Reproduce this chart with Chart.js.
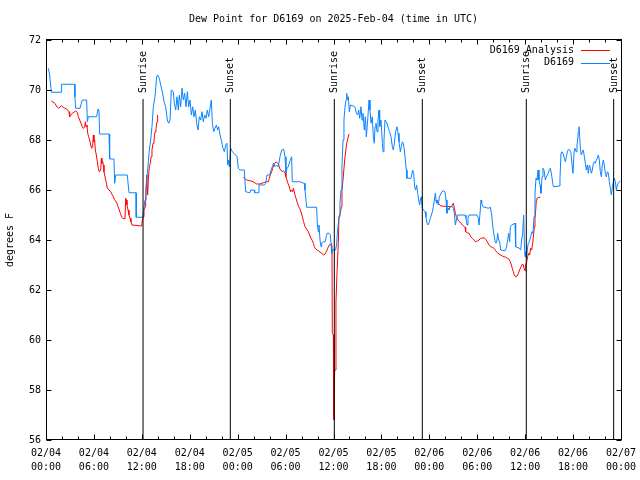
<!DOCTYPE html>
<html>
<head>
<meta charset="utf-8">
<title>Dew Point D6169</title>
<script src="https://cdn.jsdelivr.net/npm/chart.js@4.4.1/dist/chart.umd.min.js"></script>
<style>
  html, body { margin: 0; padding: 0; background: #fff; }
  #wrap { width: 640px; height: 480px; }
</style>
</head>
<body>
<div id="wrap"><canvas id="grafico" width="640" height="480"></canvas></div>
<script>
// ---------------------------------------------------------
// Dados (horas desde 02/04 00:00 UTC, ponto de orvalho em F)
// ---------------------------------------------------------
const TITULO = 'Dew Point for D6169 on 2025-Feb-04 (time in UTC)';

const xTickLabels = [
  ['02/04', '00:00'], ['02/04', '06:00'], ['02/04', '12:00'], ['02/04', '18:00'],
  ['02/05', '00:00'], ['02/05', '06:00'], ['02/05', '12:00'], ['02/05', '18:00'],
  ['02/06', '00:00'], ['02/06', '06:00'], ['02/06', '12:00'], ['02/06', '18:00'],
  ['02/07', '00:00']
];

// eventos solares
const sunHours = [12.15, 23.08, 36.10, 47.12, 60.14, 71.08];
const sunLabels = ['Sunrise', 'Sunset', 'Sunrise', 'Sunset', 'Sunrise', 'Sunset'];
const sunLineTop = 69.64;

// observacoes D6169 (azul)
const obsHours = [
  0.29, 0.46, 0.58, 0.67, 1.92, 1.95, 3.59, 3.62, 3.71, 4.26, 4.42, 4.55, 5.09, 5.18, 5.30, 6.34,
  6.51, 6.63, 6.72, 7.89, 7.97, 8.51, 8.60, 8.72, 10.18, 10.39, 11.27, 11.30, 12.10, 12.19, 12.40, 12.52,
  12.69, 12.94, 13.11, 13.27, 13.44, 13.65, 13.86, 13.98, 14.19, 14.36, 14.57, 14.78, 14.99, 15.19, 15.36, 15.53,
  15.69, 15.94, 16.07, 16.24, 16.40, 16.57, 16.70, 16.86, 17.03, 17.20, 17.36, 17.53, 17.70, 17.86, 18.03, 18.20,
  18.37, 18.53, 18.70, 18.87, 19.03, 19.20, 19.37, 19.53, 19.70, 19.87, 20.04, 20.20, 20.37, 20.54, 20.70, 20.83,
  21.00, 21.16, 21.33, 21.50, 21.62, 21.79, 22.00, 22.16, 22.33, 22.50, 22.66, 22.75, 22.83, 22.96, 23.12, 23.33,
  23.54, 23.75, 23.92, 24.08, 24.29, 24.83, 25.00, 25.54, 25.63, 26.05, 26.13, 26.59, 26.67, 27.34, 27.51, 27.67,
  28.01, 28.17, 28.34, 28.51, 28.68, 28.88, 29.09, 29.30, 29.51, 29.76, 29.93, 30.05, 30.18, 30.34, 30.51, 30.76,
  30.84, 31.81, 32.26, 32.35, 32.43, 32.64, 33.89, 33.98, 34.10, 34.18, 34.31, 34.44, 34.52, 34.69, 34.94, 35.10,
  35.19, 35.44, 35.60, 35.69, 35.77, 35.90, 36.27, 36.40, 36.48, 36.69, 36.81, 36.94, 37.06, 37.19, 37.31, 37.44,
  37.57, 37.65, 37.77, 37.86, 37.98, 38.11, 38.48, 38.69, 38.86, 39.03, 39.15, 39.28, 39.44, 39.57, 39.69, 39.86,
  39.99, 40.11, 40.28, 40.45, 40.57, 40.70, 40.86, 40.99, 41.11, 41.20, 41.32, 41.45, 41.57, 41.70, 41.78, 41.95,
  42.12, 42.20, 42.32, 42.45, 42.70, 42.87, 43.03, 43.20, 43.37, 43.49, 43.62, 43.78, 43.95, 44.08, 44.20, 44.37,
  44.49, 44.62, 44.74, 44.87, 44.99, 45.12, 45.20, 45.70, 45.79, 45.91, 46.04, 46.16, 46.29, 46.41, 46.54, 46.67,
  46.79, 46.87, 47.00, 47.12, 47.29, 47.46, 47.58, 47.71, 47.87, 48.00, 48.13, 48.25, 48.38, 48.50, 48.63, 48.75,
  48.88, 49.00, 49.13, 49.25, 49.38, 49.55, 49.75, 49.96, 50.09, 50.21, 50.34, 50.46, 50.59, 50.88, 51.01, 51.13,
  51.26, 51.38, 51.55, 52.47, 52.59, 52.72, 52.84, 52.97, 53.97, 54.14, 54.22, 54.35, 54.47, 54.55, 54.72, 55.39,
  55.64, 55.81, 55.97, 56.14, 56.27, 56.43, 56.56, 56.68, 56.81, 56.93, 57.48, 57.64, 57.81, 57.94, 58.06, 58.14,
  58.31, 58.73, 58.81, 59.27, 59.44, 59.56, 59.69, 59.81, 59.90, 59.98, 60.06, 60.19, 60.31, 60.40, 60.52, 60.69,
  60.86, 60.98, 61.11, 61.23, 61.36, 61.48, 61.61, 61.73, 61.86, 61.98, 62.11, 62.23, 62.36, 62.53, 62.65, 62.90,
  63.03, 63.15, 63.28, 63.40, 63.53, 64.24, 64.36, 64.49, 64.61, 64.74, 64.91, 65.03, 65.16, 65.28, 65.41, 65.57,
  65.74, 65.87, 65.99, 66.12, 66.24, 66.37, 66.49, 66.57, 66.66, 66.74, 66.82, 66.91, 67.03, 67.16, 67.28, 67.41,
  67.53, 67.66, 67.79, 67.91, 68.04, 68.16, 68.29, 68.41, 68.54, 68.66, 68.78, 68.91, 69.04, 69.16, 69.29, 69.41,
  69.54, 69.66, 69.79, 69.91, 70.04, 70.16, 70.29, 70.42, 70.54, 70.67, 70.79, 70.92, 71.04, 71.17, 71.29, 71.42,
  71.54, 71.67, 71.79, 71.92
];
const obsDewF = [
  70.87, 70.60, 70.20, 69.91, 69.91, 70.23, 70.23, 69.73, 69.27, 69.27, 69.47, 69.60, 69.60, 68.73, 68.93, 68.93,
  69.24, 69.20, 68.24, 68.24, 67.24, 67.24, 66.27, 66.60, 66.60, 65.89, 65.89, 64.91, 64.91, 65.13, 65.60, 66.00,
  66.67, 67.60, 68.00, 68.53, 69.33, 69.73, 70.53, 70.60, 70.47, 70.20, 69.93, 69.53, 69.33, 68.80, 68.67, 68.80,
  70.00, 69.93, 69.47, 69.20, 69.73, 69.20, 69.80, 69.33, 70.07, 69.60, 69.87, 69.33, 69.93, 69.33, 69.60, 69.00,
  69.33, 68.93, 69.20, 68.67, 68.40, 68.93, 68.80, 69.13, 68.73, 69.00, 68.87, 69.20, 68.93, 69.27, 69.60, 68.67,
  68.33, 68.47, 68.60, 68.40, 68.53, 68.20, 67.93, 67.67, 67.53, 67.80, 67.87, 67.00, 67.20, 66.93, 67.67, 67.53,
  67.47, 67.40, 67.33, 66.87, 66.80, 66.80, 65.93, 65.89, 66.00, 66.00, 65.89, 65.89, 66.20, 66.20, 66.27, 66.60,
  66.60, 66.80, 66.93, 67.07, 66.93, 67.00, 66.93, 67.33, 67.60, 67.63, 67.33, 66.67, 66.87, 66.93, 67.13, 67.33,
  66.33, 66.33, 66.27, 66.27, 66.00, 65.31, 65.31, 64.60, 64.33, 64.60, 64.00, 63.73, 63.87, 63.93, 63.93, 64.13,
  64.27, 64.27, 64.20, 63.87, 63.47, 63.60, 63.60, 63.87, 64.27, 64.93, 65.47, 66.00, 66.93, 68.00, 68.80, 69.33,
  69.60, 69.87, 69.60, 69.73, 69.13, 69.40, 69.36, 69.31, 69.07, 69.00, 69.20, 68.87, 69.33, 68.80, 69.07, 68.40,
  68.93, 68.13, 68.80, 69.60, 69.20, 68.67, 68.93, 68.13, 67.87, 68.53, 68.67, 68.33, 68.80, 69.20, 68.53, 68.80,
  67.87, 67.53, 68.00, 68.80, 68.67, 68.47, 68.33, 68.13, 67.73, 67.60, 67.87, 68.33, 68.53, 68.27, 67.93, 67.53,
  67.73, 67.93, 67.87, 67.60, 67.20, 66.80, 66.47, 66.47, 66.60, 66.80, 66.67, 66.13, 66.00, 66.20, 65.87, 65.60,
  65.40, 65.60, 65.73, 65.27, 65.20, 65.13, 64.93, 64.67, 64.60, 64.73, 64.87, 65.00, 65.13, 65.33, 65.60, 65.87,
  65.47, 65.60, 65.40, 65.73, 65.80, 65.93, 65.97, 65.93, 65.60, 65.07, 65.27, 65.20, 65.33, 65.33, 65.27, 65.07,
  64.60, 64.80, 65.00, 65.00, 64.87, 64.60, 64.87, 65.00, 65.00, 64.87, 64.60, 65.07, 65.60, 65.47, 65.33, 65.27,
  65.31, 65.00, 64.47, 64.13, 63.89, 63.89, 64.27, 64.00, 63.93, 63.60, 63.57, 63.67, 64.00, 64.27, 63.93, 64.53,
  64.60, 64.67, 63.73, 63.67, 63.60, 64.00, 64.27, 65.00, 63.87, 63.33, 63.53, 63.27, 63.73, 63.87, 63.93, 64.13,
  64.33, 64.27, 64.93, 65.87, 66.47, 66.40, 66.80, 66.40, 66.20, 65.87, 66.53, 66.87, 66.80, 66.40, 66.53, 66.67,
  66.83, 66.87, 66.67, 66.40, 66.13, 66.16, 66.47, 67.49, 67.53, 67.47, 67.27, 67.13, 67.33, 67.53, 67.63, 67.60,
  67.47, 67.00, 66.67, 67.53, 67.67, 67.53, 67.80, 68.00, 68.33, 68.53, 68.13, 67.67, 67.40, 67.53, 67.60, 67.33,
  67.07, 66.80, 67.00, 66.67, 67.00, 66.87, 66.67, 66.80, 67.07, 67.13, 67.07, 67.20, 67.27, 67.40, 67.20, 66.73,
  66.53, 67.00, 67.20, 67.00, 66.67, 66.53, 66.73, 66.67, 66.33, 66.07, 65.80, 66.13, 66.33, 66.47, 66.33, 66.00,
  66.20, 66.27, 66.33, 66.37
];

// analise D6169 (vermelho), null = sem dados
const anaHours = [
  0.67, 1.09, 1.42, 1.59, 1.92, 2.25, 2.59, 2.88, 2.96, 3.30, 3.71, 3.92, 4.05, 4.22, 4.47, 4.59,
  4.72, 4.84, 4.93, 5.01, 5.13, 5.22, 5.34, 5.47, 5.59, 5.72, 5.84, 5.93, 6.01, 6.09, 6.18, 6.30,
  6.43, 6.55, 6.68, 6.85, 6.93, 7.01, 7.10, 7.18, 7.26, 7.35, 7.47, 7.60, 7.68, 8.10, 8.26, 8.43,
  8.56, 8.72, 8.89, 9.02, 9.18, 9.31, 9.43, 9.60, 9.89, 9.98, 10.06, 10.14, 10.27, 10.39, 10.52, 10.64,
  10.77, 10.85, 11.98, 12.06, 12.19, 12.27, 12.40, 12.48, 12.61, 12.73, 12.81, 12.94, 13.06, 13.15, 13.27, 13.40,
  13.52, 13.65, 13.77, 13.90, 13.98, 14.50,
  24.71, 25.13, 25.54, 25.96, 26.38, 26.80, 27.21, 27.63, 27.84, 27.97, 28.09, 28.26, 28.38, 28.51, 28.68, 28.88,
  29.01, 29.13, 29.30, 29.43, 29.59, 29.72, 29.84, 29.93, 30.05, 30.14, 30.26, 30.39, 30.51, 30.64, 30.76, 30.89,
  30.97, 31.10, 31.18, 31.43, 31.60, 31.76, 31.93, 32.10, 32.26, 32.43, 32.64, 32.85, 33.02, 33.18, 33.35, 33.48,
  33.60, 33.77, 33.93, 34.10, 34.44, 34.77, 34.94, 35.10, 35.27, 35.52, 35.81, 35.85, 35.98, 36.03, 36.15, 36.23,
  36.31, 36.44, 36.60, 36.69, 36.85, 36.98, 37.06, 37.19, 37.40, 37.65, 37.90, 37.98, 40.00,
  48.84, 48.96, 49.13, 49.30, 49.46, 50.71, 50.88, 51.01, 51.13, 51.26, 51.38, 51.51, 51.63, 51.80, 51.97, 52.13,
  52.47, 52.55, 52.76, 52.97, 53.18, 53.38, 53.59, 53.80, 54.01, 54.22, 54.43, 54.85, 55.06, 55.26, 55.47, 55.68,
  55.89, 56.10, 56.31, 56.52, 56.72, 56.93, 57.14, 57.35, 57.56, 57.77, 57.98, 58.14, 58.27, 58.39, 58.52, 58.64,
  58.81, 58.98, 59.15, 59.31, 59.48, 59.65, 59.77, 59.86, 59.98, 60.06, 60.19, 60.31, 60.44, 60.56, 60.69, 60.81,
  60.94, 61.07, 61.15, 61.23, 61.32, 61.40, 61.48, 61.73, 61.90
];
const anaDewF = [
  69.56, 69.47, 69.31, 69.27, 69.37, 69.29, 69.24, 69.13, 68.93, 69.07, 69.16, 69.11, 68.93, 68.80, 68.60, 68.49,
  68.47, 68.53, 68.73, 68.53, 68.60, 68.27, 68.13, 68.00, 67.80, 67.67, 67.73, 68.20, 67.93, 68.00, 67.60, 67.40,
  67.13, 66.87, 66.73, 66.80, 67.27, 67.07, 67.13, 67.00, 66.73, 66.60, 66.40, 66.20, 66.07, 65.93, 65.83, 65.73,
  65.63, 65.56, 65.47, 65.33, 65.20, 65.07, 64.96, 64.87, 64.84, 65.67, 65.60, 65.40, 65.20, 65.00, 64.87, 64.73,
  64.60, 64.60, 64.56, 64.80, 64.93, 65.20, 65.33, 65.60, 66.60, 65.80, 66.40, 66.93, 67.07, 67.33, 67.60, 67.87,
  68.00, 68.33, 68.47, 68.73, 69.00, null,
  66.51, 66.40, 66.37, 66.33, 66.24, 66.24, 66.29, 66.33, 66.33, 66.47, 66.60, 66.73, 66.87, 67.00, 67.09, 67.12,
  67.07, 67.00, 66.83, 66.80, 66.73, 66.77, 66.73, 66.67, 66.53, 66.43, 66.29, 66.20, 66.07, 65.93, 66.00, 65.93,
  66.07, 65.93, 65.80, 65.53, 65.36, 65.27, 65.13, 64.93, 64.73, 64.53, 64.43, 64.33, 64.20, 64.07, 63.97, 63.87,
  63.73, 63.64, 63.60, 63.57, 63.49, 63.40, 63.44, 63.53, 63.67, 63.83, 63.75, 60.30, 60.20, 56.80, 58.80, 58.80,
  61.53, 62.67, 63.87, 64.93, 65.07, 65.33, 66.00, 66.40, 67.20, 67.87, 68.20, 68.24, null,
  65.60, 65.53, 65.47, 65.40, 65.36, 65.33, 65.40, 65.47, 65.27, 65.07, 64.93, 64.87, 64.77, 64.73, 64.67, 64.60,
  64.51, 64.33, 64.29, 64.27, 64.13, 64.07, 64.00, 63.93, 63.96, 64.00, 64.07, 64.09, 64.03, 63.93, 63.80, 63.73,
  63.71, 63.67, 63.57, 63.49, 63.44, 63.40, 63.36, 63.33, 63.31, 63.27, 63.23, 63.13, 63.00, 62.87, 62.73, 62.60,
  62.53, 62.56, 62.67, 62.80, 62.93, 63.04, 63.00, 62.87, 62.77, 63.00, 63.13, 63.33, 63.47, 63.40, 63.67, 63.60,
  63.87, 64.27, 64.53, 64.87, 65.20, 65.60, 65.67, 65.71, 65.71
];

// ---------------------------------------------------------
// Configuracao
// ---------------------------------------------------------
const FONTE = 'DejaVu Sans Mono';
const COR_ANALISE = '#ff0000';
const COR_OBS = '#0a84ff';

Chart.defaults.font.family = FONTE;
Chart.defaults.font.size = 10;
Chart.defaults.color = '#000';

const pontos = (hs, vs) => hs.map((h, i) => ({ x: h, y: vs[i] }));

// linhas de nascer/por do sol como datasets
const sunDatasets = sunHours.map(h => ({
  label: '',
  data: [{ x: h, y: 56 }, { x: h, y: sunLineTop }],
  borderColor: '#000',
  borderWidth: 1,
  pointRadius: 0,
  fill: false
}));

// --- PLUGIN: moldura, tiques internos, titulo, legenda e rotulos do sol ---
const gnuplotFrame = {
  id: 'gnuplotFrame',
  afterDraw(chart) {
    const { ctx, chartArea: a, scales } = chart;
    const sx = scales.x, sy = scales.y;
    const L = Math.round(a.left) + 0.5, R = Math.round(a.right) + 0.5;
    const T = Math.round(a.top) - 0.5, B = Math.round(a.bottom) - 0.5;

    ctx.save();
    ctx.strokeStyle = '#000';
    ctx.lineWidth = 1;

    // tiques do eixo x (maior a cada 6h, menor a cada 2h)
    ctx.beginPath();
    for (let h = 0; h <= 72; h += 2) {
      const px = Math.round(sx.getPixelForValue(h)) + 0.5;
      const len = (h % 6 === 0) ? 5 : 3;
      ctx.moveTo(px, B); ctx.lineTo(px, B - len);
      ctx.moveTo(px, T); ctx.lineTo(px, T + len);
    }
    // tiques do eixo y
    for (let v = 56; v <= 72; v += 2) {
      const py = Math.round(sy.getPixelForValue(v)) + 0.5;
      ctx.moveTo(L, py); ctx.lineTo(L + 5, py);
      ctx.moveTo(R, py); ctx.lineTo(R - 5, py);
    }
    ctx.stroke();

    // borda
    ctx.strokeRect(L, T, R - L, B - T);

    ctx.fillStyle = '#000';
    ctx.font = '10px "' + FONTE + '"';

    // titulo
    ctx.textAlign = 'center';
    ctx.textBaseline = 'middle';
    ctx.fillText(TITULO, (a.left + a.right) / 2, 19);

    // rotulos Sunrise / Sunset
    sunHours.forEach((h, i) => {
      const px = sx.getPixelForValue(h);
      const top = sy.getPixelForValue(sunLineTop);
      ctx.save();
      ctx.translate(px + 0.5, top - 6);
      ctx.rotate(-Math.PI / 2);
      ctx.textAlign = 'left';
      ctx.textBaseline = 'middle';
      ctx.fillText(sunLabels[i], 0, 0);
      ctx.restore();
    });

    // legenda
    const itens = [['D6169 Analysis', COR_ANALISE], ['D6169', COR_OBS]];
    itens.forEach(([txt, cor], i) => {
      const y = a.top + 10 + i * 12.5;
      ctx.textAlign = 'right';
      ctx.textBaseline = 'middle';
      ctx.fillStyle = '#000';
      ctx.fillText(txt, a.right - 47, y);
      ctx.beginPath();
      ctx.strokeStyle = cor;
      ctx.moveTo(a.right - 40, Math.round(y) + 0.5);
      ctx.lineTo(a.right - 11, Math.round(y) + 0.5);
      ctx.stroke();
    });
    ctx.restore();
  }
};

new Chart(document.getElementById('grafico'), {
  type: 'line',
  data: {
    datasets: [
      ...sunDatasets,
      {
        label: 'D6169',
        data: pontos(obsHours, obsDewF),
        borderColor: COR_OBS,
        borderWidth: 1,
        pointRadius: 0,
        tension: 0,
        fill: false
      },
      {
        label: 'D6169 Analysis',
        data: pontos(anaHours, anaDewF),
        borderColor: COR_ANALISE,
        borderWidth: 1,
        pointRadius: 0,
        tension: 0,
        spanGaps: false,
        fill: false
      }
    ]
  },
  options: {
    responsive: false,
    animation: false,
    events: [],
    layout: { padding: { top: 40, right: 19, left: 0, bottom: 0 } },
    plugins: {
      legend: { display: false },
      tooltip: { enabled: false },
      title: { display: false }
    },
    scales: {
      x: {
        type: 'linear',
        min: 0,
        max: 72,
        grid: { display: false, drawTicks: false },
        border: { display: false },
        ticks: {
          stepSize: 6,
          maxRotation: 0,
          autoSkip: false,
          padding: 6,
          font: { lineHeight: 1.4 },
          callback: (v) => xTickLabels[Math.round(v / 6)]
        },
        afterFit: (s) => { s.height = 40; s.paddingLeft = 0; s.paddingRight = 0; }
      },
      y: {
        min: 56,
        max: 72,
        grid: { display: false, drawTicks: false },
        border: { display: false },
        ticks: { stepSize: 2, padding: 5 },
        title: { display: true, text: 'degrees F', padding: { top: 4, bottom: 0 } },
        afterFit: (s) => { s.width = 46; s.paddingTop = 0; s.paddingBottom = 0; }
      }
    }
  },
  plugins: [gnuplotFrame]
});
</script>
</body>
</html>
